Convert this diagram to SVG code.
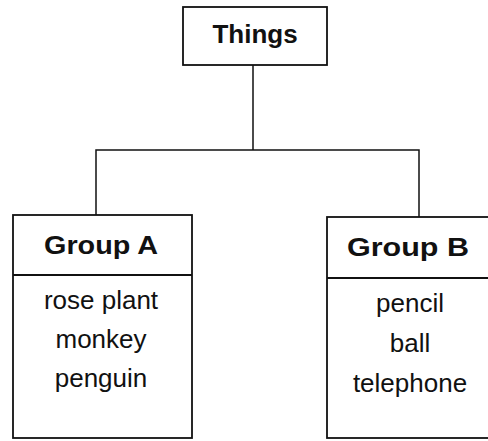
<svg xmlns="http://www.w3.org/2000/svg" width="488" height="441" viewBox="0 0 488 441">
<style>
.box{fill:none;stroke:#111;stroke-width:1.8}
.ln{fill:none;stroke:#111;stroke-width:1.5}
text{font-family:"Liberation Sans",Arial,sans-serif;font-size:26px;fill:#111;text-anchor:middle}
.h{font-weight:bold}
</style>
<rect width="488" height="441" fill="#fff"/>
<g id="connectors">
<path class="ln" d="M253 65 V150 M96 215 V150 H419 V217"/>
</g>
<g id="things">
<rect class="box" x="183" y="7" width="144" height="58"/>
<text class="h" x="255" y="43">Things</text>
</g>
<g id="groupA">
<rect class="box" x="13" y="215" width="179" height="223"/>
<line class="box" x1="13" y1="275" x2="192" y2="275"/>
<text class="h" x="101" y="254" font-size="27" textLength="114" lengthAdjust="spacingAndGlyphs">Group A</text>
<text x="101" y="309">rose plant</text>
<text x="101" y="348">monkey</text>
<text x="101" y="387">penguin</text>
</g>
<g id="groupB">
<rect class="box" x="327" y="217" width="170" height="221"/>
<line class="box" x1="327" y1="278" x2="497" y2="278"/>
<text class="h" x="408" y="256" font-size="27" textLength="122" lengthAdjust="spacingAndGlyphs">Group B</text>
<text x="410" y="312">pencil</text>
<text x="410" y="352">ball</text>
<text x="410" y="392">telephone</text>
</g>
</svg>
